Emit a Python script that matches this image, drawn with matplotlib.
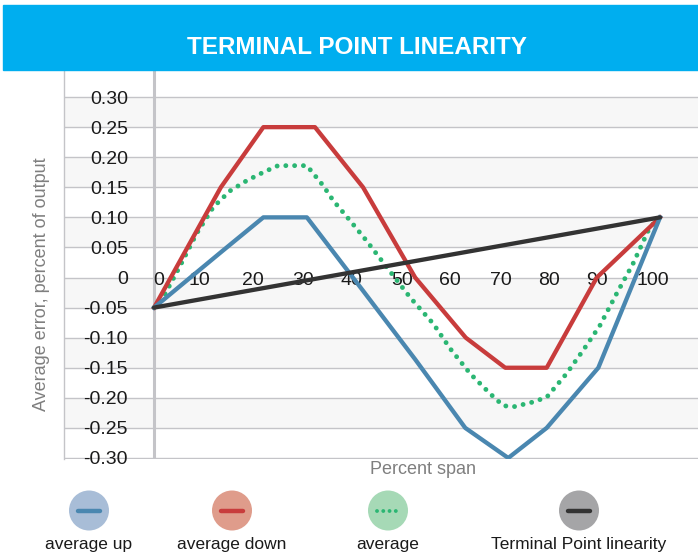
import matplotlib
matplotlib.use("Agg")
import matplotlib.pyplot as plt
from matplotlib.patches import Rectangle, Circle

plt.rcParams['font.family'] = ['Liberation Sans', 'DejaVu Sans']

# data
x_up = [0, 13.2, 21.6, 30.2, 41.3, 51.6, 61.5, 70.0, 77.6, 87.8, 100]
avg_up = [-0.05, 0.042, 0.10, 0.10, -0.022, -0.136, -0.25, -0.30, -0.25, -0.15, 0.10]

x_down = [0, 13.2, 21.6, 31.8, 41.3, 51.6, 61.6, 69.4, 77.6, 87.5, 100]
avg_down = [-0.05, 0.15, 0.25, 0.25, 0.15, 0.0, -0.10, -0.15, -0.15, 0.0, 0.10]

x_avg = [0, 2, 5, 8.4, 11.7, 15, 18.3, 21.6, 24.5, 30.2, 33.4, 35.4, 38.7, 42, 46,
         50.6, 55.2, 58.5, 62.5, 66.4, 69, 71, 74.9, 77.6, 81.5, 84.8, 88.1, 91.4,
         94.6, 98, 100]
avg = [-0.05, -0.03, 0.017, 0.073, 0.117, 0.144, 0.161, 0.175, 0.186, 0.186, 0.153,
       0.128, 0.095, 0.061, 0.017, -0.033, -0.077, -0.118, -0.16, -0.193, -0.213,
       -0.215, -0.207, -0.199, -0.16, -0.121, -0.08, -0.027, 0.022, 0.084, 0.10]

x_term = [0, 100]
terminal = [-0.05, 0.10]

x_tick_pos = [1, 9, 19.5, 29.5, 39, 49, 58.5, 68.5, 78, 87.5, 98.5]
x_tick_labels = ['0', '10', '20', '30', '40', '50', '60', '70', '80', '90', '100']
y_ticks = [0.30, 0.25, 0.20, 0.15, 0.10, 0.05, 0, -0.05, -0.10, -0.15, -0.20, -0.25, -0.30]
y_tick_labels = ['0.30', '0.25', '0.20', '0.15', '0.10', '0.05', '0',
                 '-0.05', '-0.10', '-0.15', '-0.20', '-0.25', '-0.30']
legend_names = ['average up', 'average down', 'average', 'Terminal Point linearity']

BLUE = '#4a87b0'
RED = '#c83c3c'
GREEN = '#2bb673'
DARK = '#333333'
GRID = '#c4c4c8'

fig = plt.figure(figsize=(6.98, 5.59), dpi=100)
W, H = 698, 559

# title bar
fig.patches.append(Rectangle((3 / W, 1 - 70 / H), 1 - 3 / W, 65 / H,
                             transform=fig.transFigure, color='#00aeef', zorder=0))
fig.text(357 / W, 1 - 48 / H, 'TERMINAL POINT LINEARITY', color='white',
         fontsize=17.5, fontweight='bold', ha='center', va='center')

ax = fig.add_axes([64 / W, 1 - 459 / H, (W - 64) / W, (459 - 70) / H])
ax.set_xlim(-17.8, 107.5)
ax.set_ylim(-0.3017, 0.345)

# alternating bands
for lo in [0.25, 0.15, 0.05, -0.05, -0.15, -0.25]:
    ax.axhspan(lo, lo + 0.05, color='#f7f7f7', lw=0, zorder=0)
for y in y_ticks:
    ax.axhline(y, color=GRID, lw=1.0, zorder=1)
ax.axvline(0, color=GRID, lw=2.2, zorder=1)

for s in ['top', 'right', 'bottom']:
    ax.spines[s].set_visible(False)
ax.spines['left'].set_color(GRID)
ax.spines['left'].set_linewidth(1.0)
ax.spines['bottom'].set_position(('data', 0))

ax.plot(x_avg, avg, color=GREEN, lw=3.5, linestyle=(0, (0.01, 1.8)),
        dash_capstyle='round', zorder=3)
ax.plot(x_down, avg_down, color=RED, lw=3.1, zorder=4)
ax.plot(x_up, avg_up, color=BLUE, lw=3.1, zorder=5)
ax.plot(x_term, terminal, color=DARK, lw=3.1, solid_capstyle='round', zorder=6)

ax.set_xticks(x_tick_pos)
ax.set_xticklabels(x_tick_labels)
ax.set_yticks(y_ticks)
ax.set_yticklabels(y_tick_labels)
ax.tick_params(axis='x', length=0, pad=-4.2, labelsize=14, labelcolor='#1a1a1a')
ax.tick_params(axis='y', length=0, pad=-46, labelsize=14, labelcolor='#1a1a1a')

fig.text(42 / W, 1 - 284 / H, 'Average error, percent of output', rotation=90,
         ha='center', va='center', fontsize=13, color='#7f7f7f')
fig.text(423 / W, 1 - 470 / H, 'Percent span', ha='center', va='center',
         fontsize=13, color='#7f7f7f')

# legend
lax = fig.add_axes([0, 0, 1, 79 / H])
lax.set_xlim(0, W)
lax.set_ylim(H, 480)
lax.axis('off')
leg_x = [89, 232, 388, 579]
pale = ['#a8bdd7', '#df9c8b', '#a6d9b6', '#a5a5a7']
line_cols = [BLUE, RED, GREEN, DARK]
for i, name in enumerate(legend_names):
    cx, cy = leg_x[i], 510.5
    lax.add_patch(Circle((cx, cy), 20, color=pale[i], lw=0))
    if i == 2:
        lax.plot([cx - 11, cx + 12], [cy, cy], color=line_cols[i], lw=2.8,
                 linestyle=(0, (0.01, 1.6)), dash_capstyle='round')
    else:
        lax.plot([cx - 11, cx + 11], [cy, cy], color=line_cols[i], lw=3.2,
                 solid_capstyle='round')
    lax.text(cx, 544, name, ha='center', va='center', fontsize=12.5, color='#1a1a1a')

fig.savefig('out.png', dpi=100)
